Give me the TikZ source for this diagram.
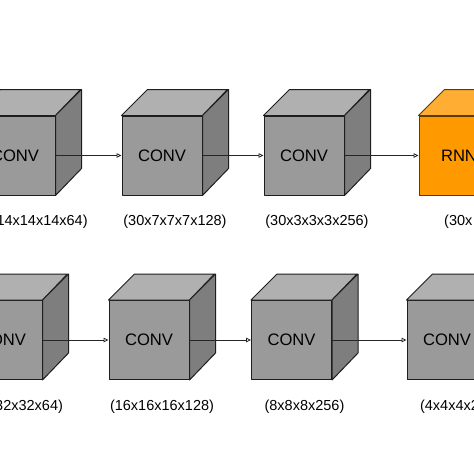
\documentclass[tikz,border=0pt]{standalone}
\usepackage{fontspec}
\setmainfont{Liberation Sans}
\usetikzlibrary{arrows.meta}
\definecolor{frontgray}{HTML}{9A9A9A}
\definecolor{topgray}{HTML}{B0B0B0}
\definecolor{sidegray}{HTML}{7E7E7E}
\definecolor{edgegray}{HTML}{1E1E1E}
\definecolor{frontorange}{HTML}{FF9900}
\definecolor{toporange}{HTML}{FFAD33}
\definecolor{sideorange}{HTML}{D98000}
\definecolor{edgeorange}{HTML}{5C3D00}
\tikzset{
  face/.style={draw=#1, line width=1pt, line join=round},
  frontface/.style={face=#1, minimum width=80pt, minimum height=79pt, inner sep=0pt,
    font=\fontsize{16.6}{18}\selectfont},
  dimlabel/.style={font=\fontsize{14.5}{16}\selectfont, inner sep=0pt},
  arr/.style={draw=black!85, line width=0.8pt, -{Triangle[open,length=5pt,width=4.5pt]}}
}
% #1 name, #2 x, #3 y, #4 text, #5 front, #6 top, #7 side, #8 edge
\newcommand\mycube[8]{%
  \node[frontface=#8, fill=#5] (#1) at (#2,#3) {#4};
  \path[face=#8, fill=#6] (#1.north west) -- ++(26,-26) -- ++(80,0) -- (#1.north east) -- cycle;
  \path[face=#8, fill=#7] (#1.north east) -- ++(26,-26) -- ++(0,79) -- (#1.south east) -- cycle;
}
\begin{document}
\begin{tikzpicture}[x=1pt,y=-1pt]
\useasboundingbox (0,0) rectangle (474,474);
\fill[white] (0,0) rectangle (474,474);
% top row
\mycube{c1}{15}{155.5}{CONV}{frontgray}{topgray}{sidegray}{edgegray}
\mycube{c2}{162}{155.5}{CONV}{frontgray}{topgray}{sidegray}{edgegray}
\mycube{c3}{304}{155.5}{CONV}{frontgray}{topgray}{sidegray}{edgegray}
\mycube{rnn}{459}{155.5}{RNN}{frontorange}{toporange}{sideorange}{edgeorange}
\draw[arr] (c1.east) -- (c2.west);
\draw[arr] (c2.east) -- (c3.west);
\draw[arr] (c3.east) -- (rnn.west);
\node[dimlabel] (l1) at (28,222) {(30x14x14x14x64)};
\node[dimlabel] (l2) at (175,222) {(30x7x7x7x128)};
\node[dimlabel] (l3) at (317,222) {(30x3x3x3x256)};
\node[dimlabel, anchor=west] (l4) at (444,222) {(30x};
% bottom row
\mycube{b1}{2}{340}{CONV}{frontgray}{topgray}{sidegray}{edgegray}
\mycube{b2}{149}{340}{CONV}{frontgray}{topgray}{sidegray}{edgegray}
\mycube{b3}{291.5}{340}{CONV}{frontgray}{topgray}{sidegray}{edgegray}
\mycube{b4}{447}{340}{CONV}{frontgray}{topgray}{sidegray}{edgegray}
\draw[arr] (b1.east) -- (b2.west);
\draw[arr] (b2.east) -- (b3.west);
\draw[arr] (b3.east) -- (b4.west);
\node[dimlabel] (m1) at (15,407) {(32x32x32x64)};
\node[dimlabel] (m2) at (162,407) {(16x16x16x128)};
\node[dimlabel] (m3) at (304.5,407) {(8x8x8x256)};
\node[dimlabel] (m4) at (460,407) {(4x4x4x256)};
\end{tikzpicture}
\end{document}
